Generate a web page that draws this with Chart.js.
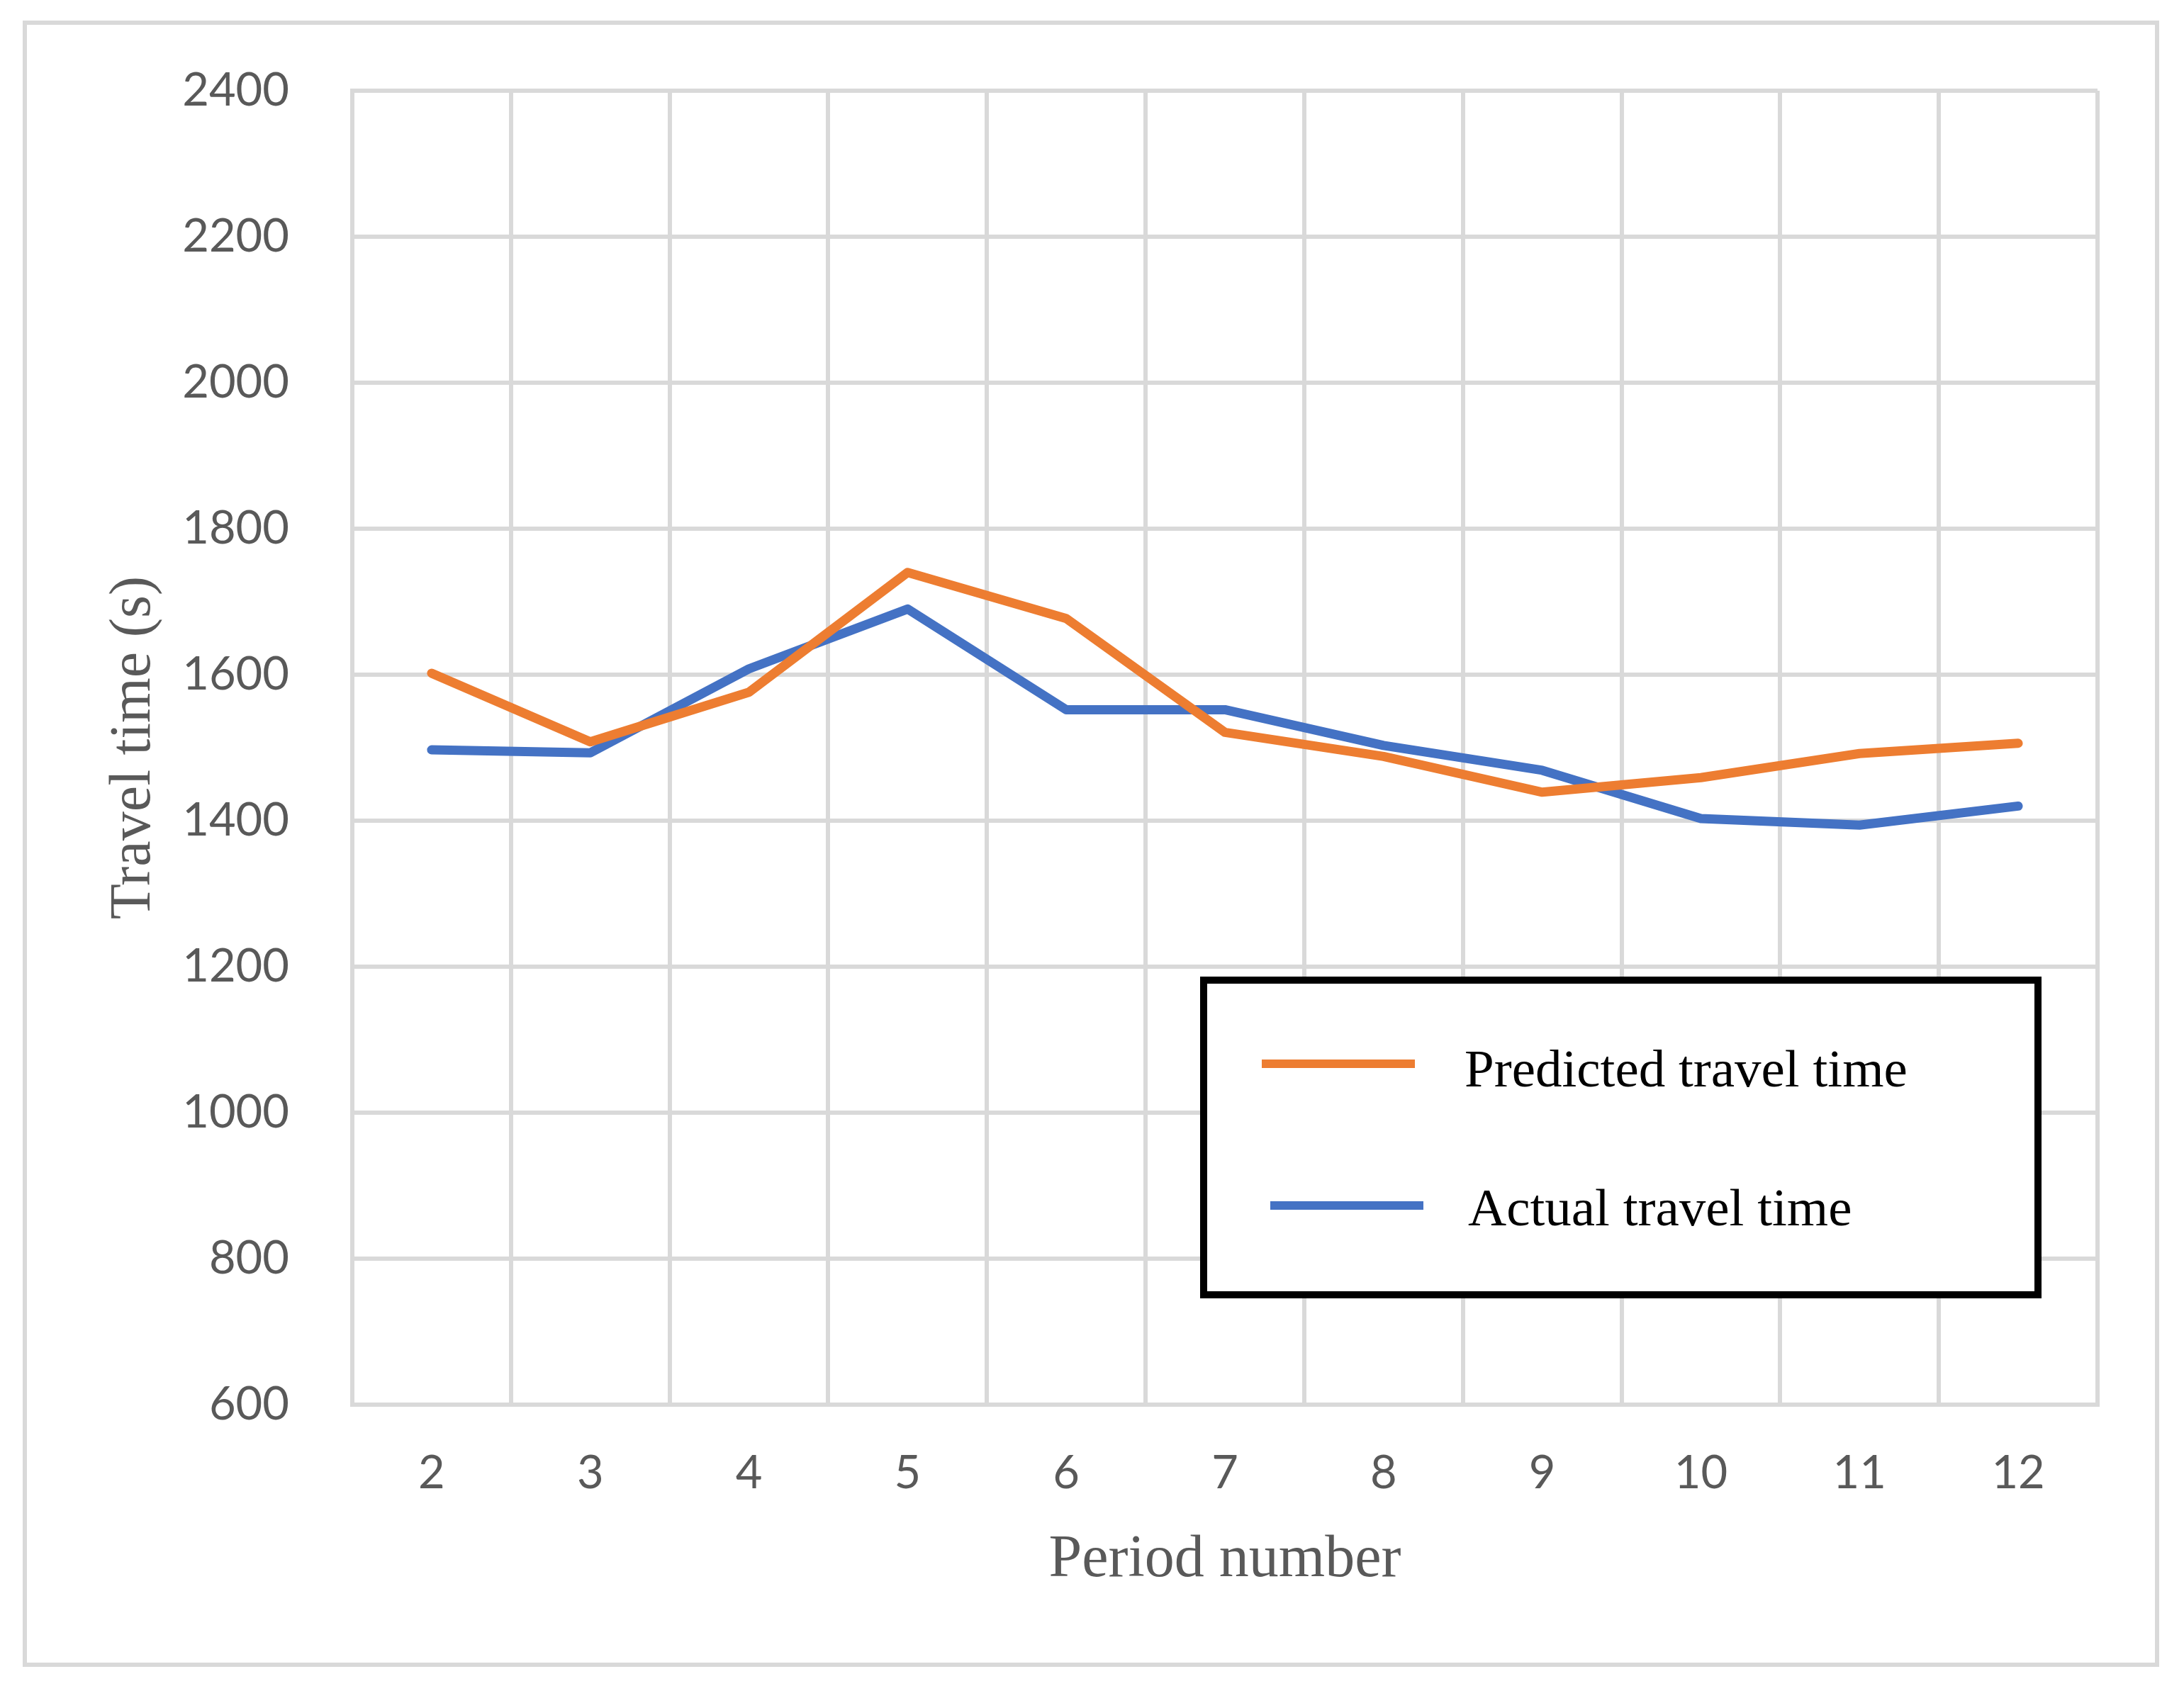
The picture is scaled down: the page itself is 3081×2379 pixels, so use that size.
<!DOCTYPE html>
<html>
<head>
<meta charset="utf-8">
<script src="https://cdn.jsdelivr.net/npm/chart.js@4/dist/chart.umd.min.js"></script>
<style>
  html, body { margin: 0; padding: 0; background: #fff; }
  canvas { display: block; }
</style>
</head>
<body>
<canvas id="travelChart" width="3081" height="2379"></canvas>
<script>
// Period numbers on the x axis
const periods = ['2', '3', '4', '5', '6', '7', '8', '9', '10', '11', '12'];

// Travel times (s)
const predictedTimes = [1602, 1508, 1576, 1740, 1677, 1521, 1488, 1439, 1459, 1492, 1506];
const actualTimes = [1497, 1493, 1608, 1690, 1552, 1552, 1503, 1469, 1403, 1394, 1420];

const seriesNames = ['Predicted travel time', 'Actual travel time'];
const seriesColors = ['#ED7D31', '#4472C4'];

const gridColor = '#D9D9D9';
const textColor = '#595959';

// white background, light grey frame and the boxed legend inside the plot
const framePlugin = {
  id: 'frame',
  beforeDraw(chart) {
    const ctx = chart.ctx;
    ctx.save();
    ctx.fillStyle = '#fff';
    ctx.fillRect(0, 0, chart.width, chart.height);
    ctx.restore();
  },
  afterDraw(chart) {
    const ctx = chart.ctx;
    ctx.save();
    ctx.strokeStyle = gridColor;
    ctx.lineWidth = 6;
    ctx.strokeRect(35, 32, 3008, 2317);

    // legend box
    ctx.fillStyle = '#fff';
    ctx.fillRect(1698, 1383, 1177, 444);
    ctx.strokeStyle = '#000';
    ctx.lineWidth = 10;
    ctx.strokeRect(1698, 1383, 1177, 444);

    const rows = [
      { x1: 1780, x2: 1996, y: 1501, tx: 2066, ty: 1533 },
      { x1: 1792, x2: 2008, y: 1701, tx: 2071, ty: 1729 }
    ];
    ctx.font = '75px "Liberation Serif"';
    ctx.textBaseline = 'alphabetic';
    ctx.textAlign = 'left';
    chart.data.datasets.forEach((ds, i) => {
      const r = rows[i];
      ctx.strokeStyle = ds.borderColor;
      ctx.lineWidth = 12;
      ctx.lineCap = 'butt';
      ctx.beginPath();
      ctx.moveTo(r.x1, r.y);
      ctx.lineTo(r.x2, r.y);
      ctx.stroke();
      ctx.fillStyle = '#000';
      ctx.fillText(ds.label, r.tx, r.ty);
    });
    ctx.restore();
  }
};

const ctx = document.getElementById('travelChart').getContext('2d');

const travelChart = new Chart(ctx, {
  type: 'line',
  data: {
    labels: periods,
    datasets: [
      {
        label: seriesNames[0],
        data: predictedTimes,
        borderColor: seriesColors[0],
        borderWidth: 13,
        pointRadius: 0,
        tension: 0,
        borderCapStyle: 'round',
        borderJoinStyle: 'round',
        fill: false
      },
      {
        label: seriesNames[1],
        data: actualTimes,
        borderColor: seriesColors[1],
        borderWidth: 13,
        pointRadius: 0,
        tension: 0,
        borderCapStyle: 'round',
        borderJoinStyle: 'round',
        fill: false
      }
    ]
  },
  options: {
    responsive: false,
    maintainAspectRatio: false,
    devicePixelRatio: 1,
    animation: false,
    layout: {
      padding: { left: 0, right: 122, top: 122, bottom: 0 }
    },
    plugins: {
      legend: { display: false },
      tooltip: { enabled: false }
    },
    scales: {
      x: {
        offset: true,
        grid: { offset: true, color: gridColor, lineWidth: 6, drawTicks: false },
        border: { color: gridColor, width: 6 },
        ticks: {
          color: textColor,
          font: { family: 'Lato', size: 65 },
          padding: 58,
          maxRotation: 0
        },
        title: {
          display: true,
          text: 'Period number',
          color: textColor,
          font: { family: 'Liberation Serif', size: 84 },
          padding: { top: 0, bottom: 127 }
        },
        afterFit(scale) { scale.height = 397; }
      },
      y: {
        min: 600,
        max: 2400,
        grid: { color: gridColor, lineWidth: 6, drawTicks: false },
        border: { color: gridColor, width: 6 },
        ticks: {
          stepSize: 200,
          color: textColor,
          font: { family: 'Lato', size: 65 },
          padding: 89,
          callback: (value) => String(value)
        },
        title: {
          display: true,
          text: 'Travel time (s)',
          color: textColor,
          font: { family: 'Liberation Serif', size: 82 },
          padding: { top: 140, bottom: 0 }
        },
        afterFit(scale) { scale.width = 497; }
      }
    }
  },
  plugins: [framePlugin]
});
</script>
</body>
</html>
